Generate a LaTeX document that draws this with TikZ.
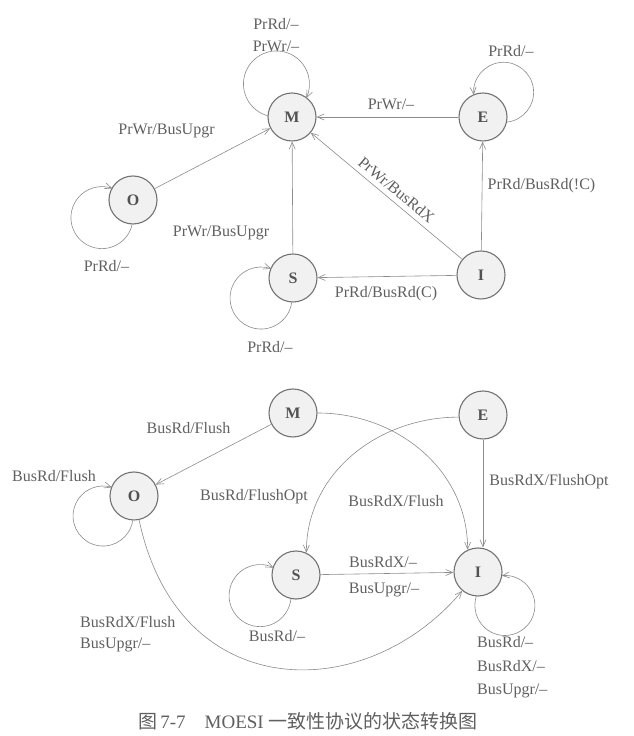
\documentclass[tikz,border=0pt]{standalone}
\usepackage{fontspec}
\setmainfont{Liberation Serif}
\newfontfamily\cjk{Noto Sans CJK SC}
\usetikzlibrary{arrows.meta}
\definecolor{txt}{HTML}{606060}
\definecolor{ln}{HTML}{8C8C8C}
\definecolor{circ}{HTML}{727272}
\definecolor{fillc}{HTML}{F1F1F1}
\tikzset{
  st/.style={circle, draw=circ, line width=1.1pt, fill=fillc, minimum size=48pt, inner sep=0pt,
    font=\fontsize{16}{16}\selectfont\bfseries, text=txt!85!black},
  lbl/.style={font=\fontsize{16}{22}\selectfont, text=txt, inner sep=0pt},
  tr/.style={draw=ln, line width=0.6pt, -{Straight Barb[length=7pt,width=6pt]}},
}
\begin{document}
\begin{tikzpicture}[x=1pt,y=1pt]
\useasboundingbox (0,0) rectangle (634,736);
\fill[white] (0,0) rectangle (634,736);

% ---------- top diagram ----------
\node[st] (tM) at (292,619) {M};
\node[st] (tE) at (483,619) {E};
\node[st] (tO) at (133,536) {O};
\node[st] (tS) at (293,458) {S};
\node[st] (tI) at (481,461) {I};

\draw[tr] (tO) -- (tM);
\draw[tr] (tE) -- (tM);
\draw[tr] (tI) -- (tE);
\draw[tr] (tS) -- (tM);
\draw[tr] (tI) -- (tS);
\draw[tr] (tI) -- node[lbl, sloped, above=5pt, pos=0.48] (lIM) {PrWr/BusRdX} (tM);

\draw[tr] (tM.177) arc[start angle=254.2, end angle=-25.3, radius=33pt];
\draw[tr] (tE.-12.8) arc[start angle=-83.5, end angle=185, radius=30pt];
\draw[tr] (tO.-92) arc[start angle=-12.9, end angle=-289.6, radius=31pt];
\draw[tr] (tS.-93) arc[start angle=-8.3, end angle=-289, radius=31pt];

\node[lbl, align=center] (lMl) at (276,701) {PrRd/--\\PrWr/--};
\node[lbl] (lOM) at (166.5,605) {PrWr/BusUpgr};
\node[lbl] (lEM) at (391,632) {PrWr/--};
\node[lbl] (lEl) at (511,685) {PrRd/--};
\node[lbl] (lIE) at (541.5,550) {PrRd/BusRd(!C)};
\node[lbl] (lSM) at (221,503.5) {PrWr/BusUpgr};
\node[lbl] (lOl) at (106.5,470) {PrRd/--};
\node[lbl] (lSl) at (270,388.5) {PrRd/--};
\node[lbl] (lIS) at (386,442.5) {PrRd/BusRd(C)};

% ---------- bottom diagram ----------
\node[st] (bM) at (293,323) {M};
\node[st] (bE) at (483,321) {E};
\node[st] (bO) at (134,240) {O};
\node[st] (bS) at (296,161) {S};
\node[st] (bI) at (478,164) {I};

\draw[tr] (bM) -- (bO);
\draw[tr] (bE.south) -- (bE.south |- bI.north);
\draw[tr] (bS) -- (bI);
\draw[tr] (bM.east) to[out=0, in=90] (bI.115);
\draw[tr] (bE.185) to[out=180, in=90] (bS.65);
\draw[tr] (bO.-78) .. controls +(-78:190) and +(-130:150) .. (bI.-130);

\draw[tr] (bO.-93) arc[start angle=-8.6, end angle=-287, radius=30pt];
\draw[tr] (bS.-102.5) arc[start angle=-6.3, end angle=-295.6, radius=31pt];
\draw[tr] (bI.-94) arc[start angle=162.5, end angle=456, radius=30pt];

\node[lbl] (lMO) at (188.5,307.5) {BusRd/Flush};
\node[lbl] (lOl2) at (54,260) {BusRd/Flush};
\node[lbl] (lES) at (254,239.5) {BusRd/FlushOpt};
\node[lbl] (lMI) at (396,234.5) {BusRdX/Flush};
\node[lbl] (lEI) at (549,254.5) {BusRdX/FlushOpt};
\node[lbl] (lSI1) at (383,173.5) {BusRdX/--};
\node[lbl] (lSI2) at (384,146) {BusUpgr/--};
\node[lbl] (lSl2) at (277,99.5) {BusRd/--};
\node[lbl, align=left, anchor=west, font=\fontsize{16}{21}\selectfont] (lOI) at (80,102) {BusRdX/Flush\\BusUpgr/--};
\node[lbl, align=left, anchor=west, font=\fontsize{16}{23.5}\selectfont] (lIl) at (477,68.5) {BusRd/--\\BusRdX/--\\BusUpgr/--};

% ---------- caption ----------
\node[text=txt, font=\fontsize{19}{19}\selectfont, anchor=west, inner sep=0pt] (cap) at (138,15)
  {{\cjk 图}\,7-7\quad MOESI {\cjk 一致性协议的状态转换图}};
\end{tikzpicture}
\end{document}
